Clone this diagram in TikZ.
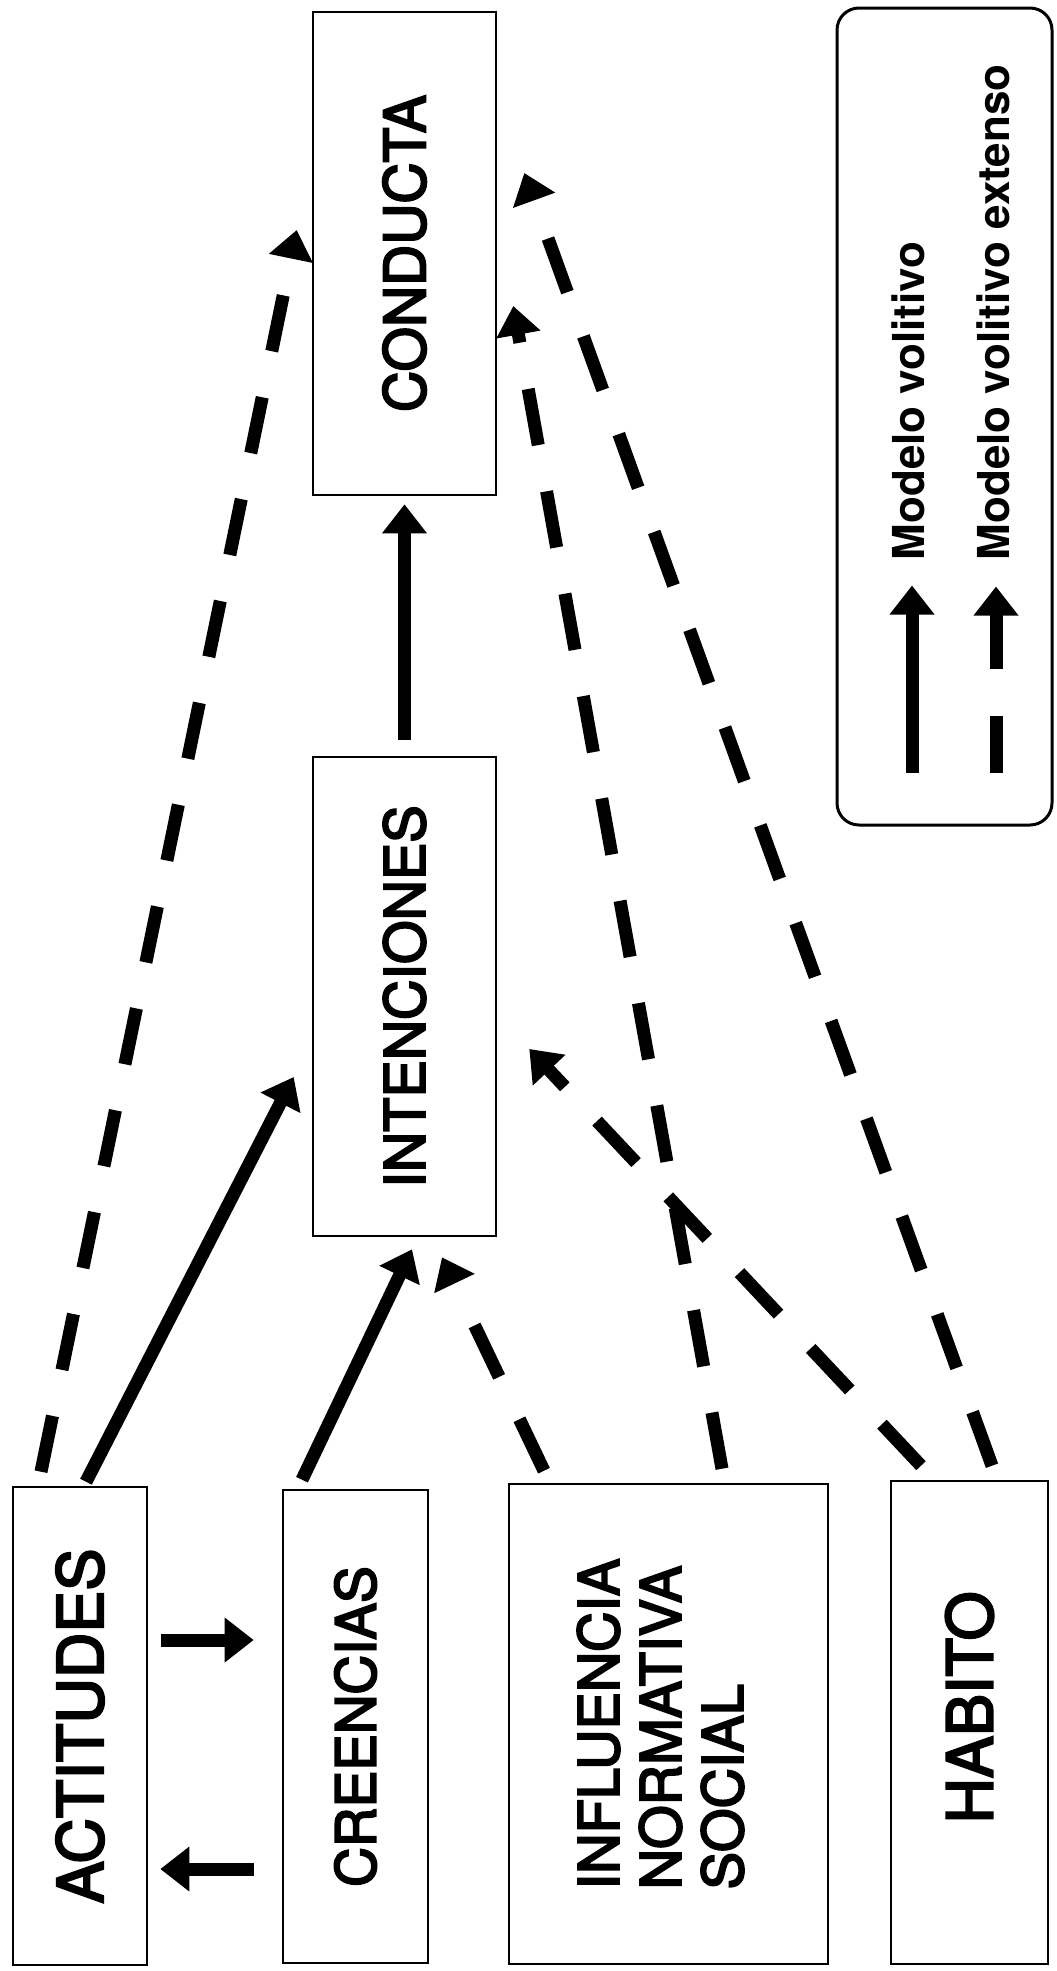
\documentclass[tikz,border=0pt]{standalone}
\usepackage{fontspec}
\setmainfont{TeX Gyre Heros}
\newfontfamily\medfont[FakeBold=3.5]{TeX Gyre Heros}
\usepackage{graphicx}
\usetikzlibrary{arrows.meta,calc}
\tikzset{
  box/.style={draw, line width=2.6pt, inner sep=0pt, align=center},
  legbox/.style={draw, line width=3pt, inner sep=0pt, rounded corners=22pt},
  legtxt/.style={rotate=90, inner sep=0pt, font=\bfseries\fontsize{44}{48}\selectfont},
  solidarr/.style={line width=13pt, -{Triangle[width=43pt,length=29pt]}},
  dasharr/.style={solidarr, dash pattern=on 57pt off 47pt},
}
\begin{document}
\begin{tikzpicture}[x=1pt,y=-1pt]
\useasboundingbox (0,0) rectangle (1057,1971);
% boxes
\node[box, minimum width=183pt, minimum height=483pt, font=\medfont\fontsize{57}{62}\selectfont] (con) at (404.5,253.5) {\rotatebox{90}{CONDUCTA}};
\node[box, minimum width=183pt, minimum height=479pt, font=\medfont\fontsize{56}{62}\selectfont] (int) at (404.5,996.5) {\rotatebox{90}{INTENCIONES}};
\node[box, minimum width=134pt, minimum height=478pt, font=\medfont\fontsize{63}{70}\selectfont] (act) at (80,1726) {\rotatebox{90}{ACTITUDES}};
\node[box, minimum width=145pt, minimum height=473pt, font=\medfont\fontsize{55}{62}\selectfont] (cre) at (355.5,1726.5) {\rotatebox{90}{CREENCIAS}};
\node[box, minimum width=319pt, minimum height=480pt, font=\medfont\fontsize{56}{62}\selectfont] (inf) at (668.5,1724) {\rotatebox{90}{\begin{tabular}{@{}l@{}}INFLUENCIA\\NORMATIVA\\SOCIAL\end{tabular}}};
\node[box, minimum width=157pt, minimum height=483pt, font=\medfont\fontsize{63}{68}\selectfont] (hab) at (969.5,1722.5) {\rotatebox{90}{\hspace*{30pt}HABITO}};
% legend
\node[legbox, minimum width=215pt, minimum height=817pt] (leg) at (944.5,416.5) {};
\draw[solidarr] ($(leg.south)+(-32.5,-54)$) -- ($(leg.south)+(-32.5,-241)$);
\draw[dasharr] ($(leg.south)+(51.5,-54)$) -- ($(leg.south)+(51.5,-240)$);
\node[legtxt, anchor=base west] (t1) at ($(leg.south)+(-20,-266)$) {Modelo volitivo};
\node[legtxt, anchor=base west] (t2) at ($(leg.south)+(65,-266)$) {Modelo volitivo extenso};
% solid connectors
\draw[solidarr] ($(act.north)+(6,-4)$) -- ($(int.west)+(-18,80.5)$);
\draw[solidarr] ($(cre.north)+(-53.5,-9)$) -- ($(int.south)+(7.5,12)$);
\draw[solidarr] ($(int.north)+(0,-16)$) -- ($(con.south)+(0,8)$);
\draw[solidarr] ($(act.east)+(13,-86)$) -- ($(cre.west)+(-28,-86.5)$);
\draw[solidarr] ($(cre.west)+(-28,142.5)$) -- ($(act.east)+(12,143)$);
% dashed connectors
\draw[dasharr] ($(act.north)+(-39,-14)$) -- ($(con.west)+(-15,-23.5)$);
\draw[dasharr] ($(inf.north)+(-124.5,-12)$) -- ($(int.south)+(37.5,20)$);
\draw[dasharr] ($(inf.north)+(53.5,-14)$) -- ($(con.east)+(16,52.5)$);
\draw[dasharr] ($(hab.north)+(-48.5,-14)$) -- ($(int.east)+(32,52.5)$);
\draw[dasharr] ($(hab.north)+(22.5,-14)$) -- ($(con.east)+(27,-80.5)$);
\end{tikzpicture}
\end{document}
